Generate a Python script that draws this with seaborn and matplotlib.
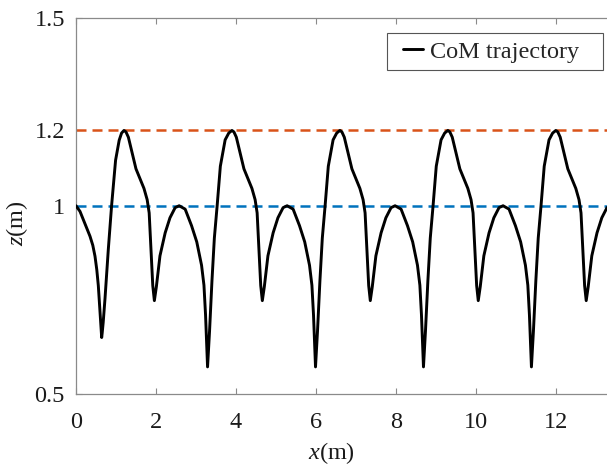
import matplotlib
matplotlib.use("Agg")
import matplotlib.pyplot as plt
from matplotlib.patches import Rectangle
import seaborn as sns
import pandas as pd

# CoM trajectory (x in m, z in m)
x_m = [
    0.0, 0.1, 0.183, 0.27, 0.35, 0.42, 0.475, 0.52, 0.558, 0.6, 0.63, 0.642, 0.655, 0.68, 0.725, 0.808, 0.89, 0.99, 1.08, 1.14, 1.2,
    1.25, 1.31, 1.39, 1.5, 1.6, 1.7, 1.78, 1.83, 1.875, 1.92, 1.96, 2.01, 2.1, 2.23, 2.35, 2.48, 2.58, 2.73, 2.89, 3.02, 3.14, 3.2, 3.24,
    3.29, 3.34, 3.4, 3.46, 3.53, 3.61, 3.73, 3.82, 3.9,
    3.95, 4.01, 4.09, 4.2, 4.3, 4.4, 4.48, 4.53, 4.575, 4.62, 4.66, 4.71, 4.8, 4.93, 5.05, 5.18, 5.28, 5.43, 5.59, 5.72, 5.84, 5.9, 5.94,
    5.99, 6.04, 6.1, 6.16, 6.23, 6.31, 6.43, 6.52, 6.6,
    6.65, 6.71, 6.79, 6.9, 7.0, 7.1, 7.18, 7.23, 7.275, 7.32, 7.36, 7.41, 7.5, 7.63, 7.75, 7.88, 7.98, 8.13, 8.29, 8.42, 8.54, 8.6, 8.64,
    8.69, 8.74, 8.8, 8.86, 8.93, 9.01, 9.13, 9.22, 9.3,
    9.35, 9.41, 9.49, 9.6, 9.7, 9.8, 9.88, 9.93, 9.975, 10.02, 10.06, 10.11, 10.2, 10.33, 10.45, 10.58, 10.68, 10.83, 10.99, 11.12, 11.24,
    11.3, 11.34, 11.39, 11.44, 11.5, 11.56, 11.63, 11.71, 11.83, 11.92, 12.0,
    12.05, 12.11, 12.19, 12.3, 12.4, 12.5, 12.58, 12.63, 12.675, 12.72, 12.76, 12.81, 12.9, 13.03, 13.15, 13.28, 13.38,
]
z_m = [
    1.0, 0.985, 0.963, 0.94, 0.919, 0.895, 0.866, 0.83, 0.788, 0.718, 0.665, 0.65, 0.662, 0.69, 0.753, 0.884, 1.0, 1.121, 1.174, 1.193, 1.2,
    1.196, 1.182, 1.147, 1.098, 1.072, 1.046, 1.016, 0.981, 0.884, 0.788, 0.748, 0.785, 0.867, 0.928, 0.968, 0.995, 1.0, 0.991, 0.947, 0.904, 0.842, 0.789, 0.71,
    0.572, 0.667, 0.8, 0.914, 1.0, 1.105, 1.175, 1.193, 1.2,
    1.196, 1.182, 1.147, 1.098, 1.072, 1.046, 1.016, 0.981, 0.884, 0.788, 0.748, 0.785, 0.867, 0.928, 0.968, 0.995, 1.0, 0.991, 0.947, 0.904, 0.842, 0.789, 0.71,
    0.572, 0.667, 0.8, 0.914, 1.0, 1.105, 1.175, 1.193, 1.2,
    1.196, 1.182, 1.147, 1.098, 1.072, 1.046, 1.016, 0.981, 0.884, 0.788, 0.748, 0.785, 0.867, 0.928, 0.968, 0.995, 1.0, 0.991, 0.947, 0.904, 0.842, 0.789, 0.71,
    0.572, 0.667, 0.8, 0.914, 1.0, 1.105, 1.175, 1.193, 1.2,
    1.196, 1.182, 1.147, 1.098, 1.072, 1.046, 1.016, 0.981, 0.884, 0.788, 0.748, 0.785, 0.867, 0.928, 0.968, 0.995, 1.0, 0.991, 0.947, 0.904, 0.842,
    0.789, 0.71, 0.572, 0.667, 0.8, 0.914, 1.0, 1.105, 1.175, 1.193, 1.2,
    1.196, 1.182, 1.147, 1.098, 1.072, 1.046, 1.016, 0.981, 0.884, 0.788, 0.748, 0.785, 0.867, 0.928, 0.968, 0.995, 1.0,
]

# reference heights
z_high = 1.2
z_nominal = 1.0

y_ticks = [0.5, 1, 1.2, 1.5]
y_tick_labels = ["0.5", "1", "1.2", "1.5"]
x_ticks = [0, 2, 4, 6, 8, 10, 12]

sns.set_style("white")
plt.rcParams["font.family"] = ["Liberation Serif", "DejaVu Serif"]
plt.rcParams["mathtext.fontset"] = "custom"
plt.rcParams["mathtext.rm"] = "Liberation Serif"
plt.rcParams["mathtext.it"] = "Liberation Serif:italic"

df = pd.DataFrame({"x": x_m, "z": z_m})

W, H = 607, 466
fig = plt.figure(figsize=(W / 100, H / 100), dpi=100)
ax = fig.add_axes([76 / W, 1 - 394 / H, 1 - 76 / W, (394 - 17.5) / H])

ax.axhline(z_high, color="#D95319", linewidth=1.8, dashes=(4, 2.4), zorder=1)
ax.axhline(z_nominal, color="#0072BD", linewidth=1.8, dashes=(4, 2.4), zorder=1)
sns.lineplot(data=df, x="x", y="z", sort=False, color="black", linewidth=2.1,
             label="CoM trajectory", ax=ax, zorder=3)

ax.set_xlim(0, 13.28)
ax.set_ylim(0.5, 1.5)
ax.set_xticks(x_ticks)
ax.set_yticks(y_ticks)
ax.set_yticklabels(y_tick_labels)
ax.set_xlabel("")
ax.set_ylabel("")

spine_color = "#8a8a8a"
for side in ["left", "bottom", "top"]:
    ax.spines[side].set_color(spine_color)
    ax.spines[side].set_linewidth(0.9)
ax.spines["right"].set_visible(False)
ax.tick_params(axis="both", direction="in", length=4, width=0.8, color=spine_color,
               labelsize=17.5, labelcolor="#1a1a1a", top=True, bottom=True, left=True)
ax.tick_params(axis="x", pad=13)
ax.tick_params(axis="y", pad=8)

fig.text(331 / W, 1 - 453 / H, "$x$(m)", fontsize=17.5, ha="center", va="center", color="#1a1a1a")
fig.text(17.5 / W, 1 - 223 / H, "$z$(m)", fontsize=17.5, ha="center", va="center",
         rotation=90, color="#1a1a1a")

# legend entry without its own frame, box drawn separately (MATLAB-like padding)
leg = ax.legend(loc="center left", bbox_to_anchor=(403 / W, 1 - 51.5 / H),
                bbox_transform=fig.transFigure, borderaxespad=0, borderpad=0, fontsize=17.5,
                handlelength=0.82, handletextpad=0.3, frameon=False)
leg.set_zorder(6)
ax.add_patch(Rectangle((387 / W, 1 - 70 / H), (603 - 387) / W, (70 - 33) / H,
                       transform=fig.transFigure, clip_on=False, facecolor="white",
                       edgecolor="#555555", linewidth=0.8, zorder=5))

fig.savefig("out.png", dpi=100)
